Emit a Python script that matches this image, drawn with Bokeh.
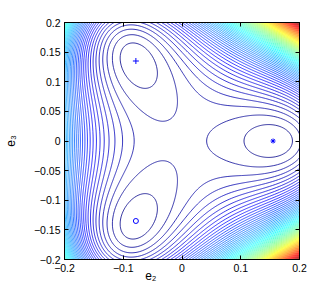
import numpy as np
from bokeh.plotting import figure
from bokeh.models import Range1d, FixedTicker, LinearAxis, CustomJSTickFormatter
from bokeh.embed import file_html
from bokeh.resources import INLINE

# Landau-type energy
# f = A*(e2^2+e3^2) + B*(e2^3 - 3 e2 e3^2) + C*(e2^2+e3^2)^2 + E*(e2^2+e3^2)^3
COEF_A = -0.0040
COEF_B = -0.2350
COEF_C = 1.0
COEF_E = 6.0
# contour levels: one level and the spacing between levels
LEVEL_START = -1.8848e-4
LEVEL_STEP = 1.6720e-4
# axes
E2_RANGE = [-0.2, 0.2]
E3_RANGE = [-0.2, 0.2]
X_TICKS = [-0.2, -0.1, 0, 0.1, 0.2]
Y_TICKS = [-0.2, -0.15, -0.1, -0.05, 0, 0.05, 0.1, 0.15, 0.2]
X_LABEL = "e₂"
Y_LABEL = "e₃"
X_LABEL_POS = -0.053
# minima markers
MIN_STAR = ([0.155], [0.0])
MIN_PLUS = ([-0.0785], [0.1350])
MIN_CIRC = ([-0.0785], [-0.1350])

g2 = np.linspace(E2_RANGE[0], E2_RANGE[1], 241)
g3 = np.linspace(E3_RANGE[0], E3_RANGE[1], 241)
X, Y = np.meshgrid(g2, g3)
R2 = X * X + Y * Y
Z = COEF_A * R2 + COEF_B * (X**3 - 3 * X * Y * Y) + COEF_C * R2**2 + COEF_E * R2**3
zmin, zmax = Z.min(), Z.max()
levels = LEVEL_START + LEVEL_STEP * np.arange(-5, int((zmax - LEVEL_START) / LEVEL_STEP) + 1)
levels = levels[(levels > zmin) & (levels < zmax)]

def jet(t):
    t = float(np.clip(t, 0, 1))
    r = np.clip(1.5 - abs(4 * t - 3), 0, 1)
    g = np.clip(1.5 - abs(4 * t - 2), 0, 1)
    b = np.clip(1.5 - abs(4 * t - 1), 0, 1)
    return "#%02x%02x%02x" % (int(r * 255), int(g * 255), int(b * 255))

cols = [jet((l - zmin) / (zmax - zmin)) for l in levels]

p = figure(width=320, height=288, output_backend="svg", toolbar_location=None,
           x_range=Range1d(*E2_RANGE), y_range=Range1d(*E3_RANGE),
           min_border_left=61, min_border_top=22, min_border_right=24, min_border_bottom=29)
p.frame_width = 235
p.frame_height = 237
p.contour(g2, g3, Z, levels, line_color=cols, line_width=0.8)
p.scatter(*MIN_STAR, marker="asterisk", size=5, color="blue", line_width=1)
p.scatter(*MIN_PLUS, marker="cross", size=6, color="blue", line_width=1)
p.scatter(*MIN_CIRC, marker="circle", size=5, line_color="blue", fill_color=None, line_width=1)

fmt = CustomJSTickFormatter(code="var s=(Math.round(tick*100)/100).toString(); return s.replace('-','\u2212');")
FONT = "Liberation Sans"
for ax in (p.xaxis[0], p.yaxis[0]):
    ax.major_label_text_font = FONT
    ax.major_label_text_font_size = "10.5px"
    ax.major_label_text_color = "black"
    ax.major_tick_in = 4
    ax.major_tick_out = 0
    ax.minor_tick_line_color = None
    ax.major_label_standoff = 4
    ax.axis_line_color = "black"
    ax.major_tick_line_color = "black"
p.xaxis.ticker = FixedTicker(ticks=X_TICKS)
p.yaxis.ticker = FixedTicker(ticks=Y_TICKS)
p.xaxis.formatter = fmt
p.yaxis.formatter = fmt
p.yaxis.axis_label = Y_LABEL
p.yaxis.axis_label_text_font = FONT
p.yaxis.axis_label_text_font_size = "12px"
p.yaxis.axis_label_text_font_style = "normal"
p.yaxis.axis_label_text_color = "black"
p.yaxis.axis_label_standoff = 13

for loc, ticks in (("above", X_TICKS), ("right", Y_TICKS)):
    ax = LinearAxis(ticker=FixedTicker(ticks=ticks), major_label_text_color=None,
                    major_tick_in=4, major_tick_out=0, minor_tick_line_color=None,
                    major_label_standoff=0, axis_line_color="black", major_tick_line_color="black")
    p.add_layout(ax, loc)

# x label: a single label on a bare extra axis, beside the tick labels as in the reference
lab_ax = LinearAxis(ticker=FixedTicker(ticks=[X_LABEL_POS]),
                    formatter=CustomJSTickFormatter(code="return '%s';" % X_LABEL),
                    major_tick_line_color=None, minor_tick_line_color=None, axis_line_color=None,
                    major_label_standoff=-12, major_label_text_font=FONT,
                    major_label_text_font_size="12px", major_label_text_color="black")
p.add_layout(lab_ax, "below")

p.grid.visible = False
p.outline_line_color = "black"

open("out.html", "w").write(file_html(p, INLINE))
